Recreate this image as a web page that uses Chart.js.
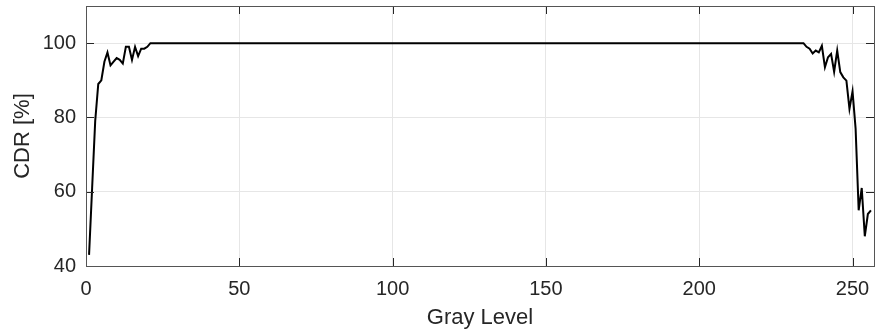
<!DOCTYPE html>
<html>
<head>
<meta charset="utf-8">
<script src="https://cdn.jsdelivr.net/npm/chart.js@4/dist/chart.umd.min.js"></script>
<style>
  html, body { margin: 0; padding: 0; background: #fff; }
  #wrap { width: 877px; height: 335px; }
</style>
</head>
<body>
<div id="wrap"><canvas id="cdrChart"></canvas></div>
<script>
// CDR per gray level (gray level 1..256)
const cdr = [
    43, 61, 79, 89, 90, 95, 97.5, 94, 95, 96, 95.5, 94.5, 99, 99, 95.5, 99, 96.5, 98.5, 98.5, 99, 100,
    100, 100, 100, 100, 100, 100, 100, 100, 100, 100, 100, 100, 100, 100, 100, 100, 100, 100, 100, 100,
    100, 100, 100, 100, 100, 100, 100, 100, 100, 100, 100, 100, 100, 100, 100, 100, 100, 100, 100, 100,
    100, 100, 100, 100, 100, 100, 100, 100, 100, 100, 100, 100, 100, 100, 100, 100, 100, 100, 100, 100,
    100, 100, 100, 100, 100, 100, 100, 100, 100, 100, 100, 100, 100, 100, 100, 100, 100, 100, 100, 100,
    100, 100, 100, 100, 100, 100, 100, 100, 100, 100, 100, 100, 100, 100, 100, 100, 100, 100, 100, 100,
    100, 100, 100, 100, 100, 100, 100, 100, 100, 100, 100, 100, 100, 100, 100, 100, 100, 100, 100, 100,
    100, 100, 100, 100, 100, 100, 100, 100, 100, 100, 100, 100, 100, 100, 100, 100, 100, 100, 100, 100,
    100, 100, 100, 100, 100, 100, 100, 100, 100, 100, 100, 100, 100, 100, 100, 100, 100, 100, 100, 100,
    100, 100, 100, 100, 100, 100, 100, 100, 100, 100, 100, 100, 100, 100, 100, 100, 100, 100, 100, 100,
    100, 100, 100, 100, 100, 100, 100, 100, 100, 100, 100, 100, 100, 100, 100, 100, 100, 100, 100, 100,
    100, 100, 100, 100, 100, 100, 100, 100, 100, 100, 100, 100,
    100, 99, 98.5, 97.2, 98, 97.5, 99.3, 93.5, 96.2, 97.1, 92.3, 98, 92.2, 90.8, 89.9, 82.3, 87, 77, 55, 61, 48, 54, 55
];
const xTicks = [0, 50, 100, 150, 200, 250];
const yTicks = [40, 60, 80, 100];

const axisColor = '#262626';

// MATLAB style box with inward ticks on all four sides
const boxTicks = {
    id: 'boxTicks',
    afterDatasetsDraw(chart) {
        const { ctx, chartArea: a, scales } = chart;
        const len = 8;
        ctx.save();
        ctx.strokeStyle = axisColor;
        ctx.lineWidth = 1;
        ctx.beginPath();
        xTicks.forEach(v => {
            const px = Math.round(scales.x.getPixelForValue(v)) + 0.5;
            ctx.moveTo(px, a.bottom); ctx.lineTo(px, a.bottom - len);
            ctx.moveTo(px, a.top); ctx.lineTo(px, a.top + len);
        });
        yTicks.forEach(v => {
            const py = Math.round(scales.y.getPixelForValue(v)) + 0.5;
            ctx.moveTo(a.left, py); ctx.lineTo(a.left + len, py);
            ctx.moveTo(a.right, py); ctx.lineTo(a.right - len, py);
        });
        ctx.stroke();
        ctx.strokeStyle = '#555';
        ctx.strokeRect(Math.round(a.left) + 0.5, Math.round(a.top) + 0.5,
            Math.round(a.right - a.left), Math.round(a.bottom - a.top));
        ctx.restore();
    }
};

new Chart(document.getElementById('cdrChart'), {
    type: 'line',
    data: {
        datasets: [{
            data: cdr.map((v, i) => ({ x: i + 1, y: v })),
            borderColor: '#000',
            borderWidth: 2,
            pointRadius: 0,
            tension: 0,
            fill: false
        }]
    },
    options: {
        responsive: true,
        maintainAspectRatio: false,
        animation: false,
        events: [],
        layout: { padding: { top: 6, right: 3, left: 0, bottom: 0 } },
        plugins: { legend: { display: false }, tooltip: { enabled: false } },
        scales: {
            x: {
                type: 'linear',
                min: 0,
                max: 257,
                afterBuildTicks: s => { s.ticks = xTicks.map(v => ({ value: v })); },
                afterFit: s => { s.height = 69; s.paddingLeft = 0; s.paddingRight = 0; },
                grid: { color: '#e6e6e6', drawTicks: false },
                border: { display: false },
                ticks: { color: axisColor, font: { family: 'Liberation Sans, Arial', size: 20 }, padding: 11, maxRotation: 0 },
                title: { display: true, text: 'Gray Level', color: axisColor, font: { family: 'Liberation Sans, Arial', size: 22 }, padding: { top: 0 } }
            },
            y: {
                min: 40,
                max: 110,
                afterBuildTicks: s => { s.ticks = yTicks.map(v => ({ value: v })); },
                afterFit: s => { s.width = 86; s.paddingTop = 0; s.paddingBottom = 0; },
                grid: { color: '#e6e6e6', drawTicks: false },
                border: { display: false },
                ticks: { color: axisColor, font: { family: 'Liberation Sans, Arial', size: 20 }, padding: 10 },
                title: { display: true, text: 'CDR [%]', color: axisColor, font: { family: 'Liberation Sans, Arial', size: 22 }, padding: { top: 10, bottom: 0 } }
            }
        }
    },
    plugins: [boxTicks]
});
</script>
</body>
</html>
